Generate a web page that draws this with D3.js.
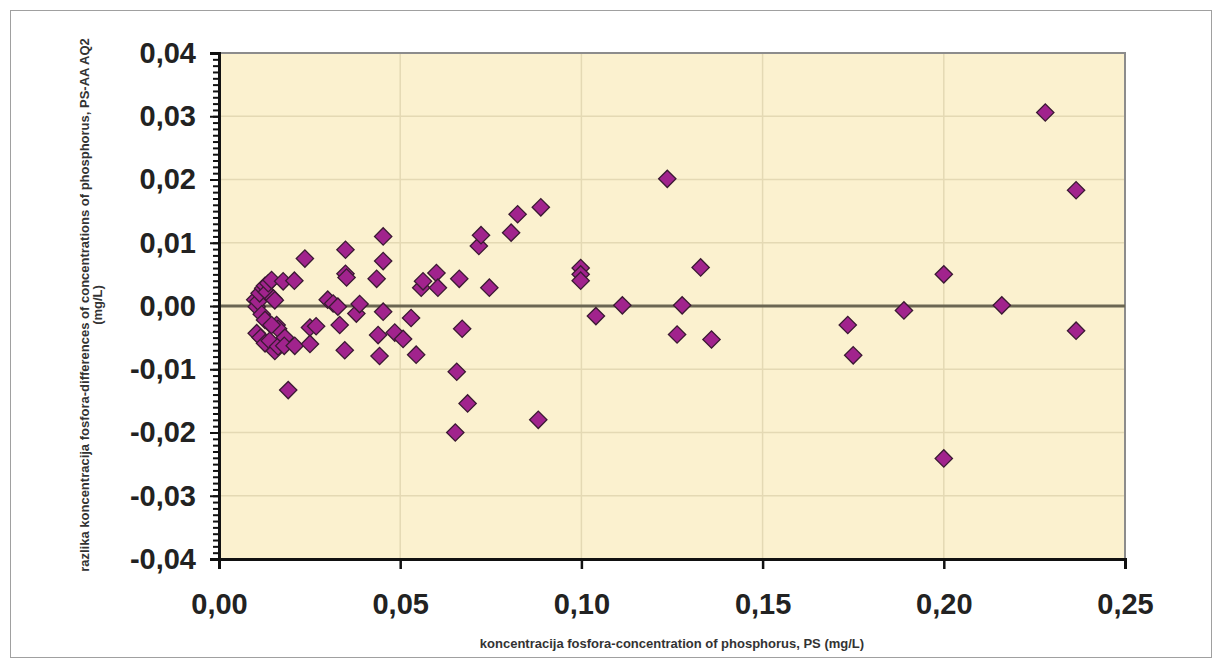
<!DOCTYPE html>
<html>
<head>
<meta charset="utf-8">
<script src="https://cdn.jsdelivr.net/npm/d3@7/dist/d3.min.js"></script>
<style>
  body { margin: 0; background: #fff; }
  svg { display: block; font-family: "Liberation Sans", Arial, sans-serif; }
  .tick-label text { font-weight: bold; fill: #222; }
  .axis-title { font-weight: bold; font-size: 13px; fill: #333; }
</style>
</head>
<body>
<div id="chart"></div>
<script>
// PS concentration (mg/L) and difference PS - AA AQ2 (mg/L)
var psValues = [
  0.0100, 0.0104, 0.0108, 0.0112, 0.0118, 0.0122, 0.0127, 0.0132, 0.0136, 0.0140,
  0.0145, 0.0150, 0.0154, 0.0159, 0.0163, 0.0104, 0.0115, 0.0127, 0.0140, 0.0154,
  0.0163, 0.0182, 0.0180, 0.0209, 0.0177, 0.0208, 0.0127, 0.0145, 0.0191, 0.0237,
  0.0251, 0.0268, 0.0251, 0.0300, 0.0315, 0.0328, 0.0333, 0.0347, 0.0349, 0.0349,
  0.0352, 0.0379, 0.0388, 0.0435, 0.0439, 0.0443, 0.0453, 0.0453, 0.0453, 0.0485,
  0.0508, 0.0530, 0.0544, 0.0558, 0.0563, 0.0600, 0.0604, 0.0656, 0.0652, 0.0663,
  0.0671, 0.0686, 0.0717, 0.0723, 0.0746, 0.0806, 0.0824, 0.0888, 0.0881, 0.0998,
  0.0998, 0.0998, 0.1040, 0.1113, 0.1237, 0.1264, 0.1278, 0.1329, 0.1359, 0.1735,
  0.1750, 0.1890, 0.2000, 0.2000, 0.2160, 0.2280, 0.2365, 0.2365
];
var diffValues = [
  0.0010, -0.0001, 0.0007, 0.0020, -0.0013, 0.0028, 0.0032, 0.0022, 0.0036, -0.0028,
  0.0041, 0.0012, 0.0009, -0.0030, -0.0036, -0.0043, -0.0050, -0.0059, -0.0055, -0.0071,
  -0.0064, -0.0050, -0.0063, -0.0063, 0.0039, 0.0040, -0.0022, -0.0030, -0.0133, 0.0075,
  -0.0034, -0.0032, -0.0060, 0.0010, 0.0004, -0.0001, -0.0030, -0.0070, 0.0089, 0.0051,
  0.0045, -0.0012, 0.0003, 0.0043, -0.0046, -0.0079, 0.0110, 0.0071, -0.0009, -0.0042,
  -0.0052, -0.0019, -0.0077, 0.0029, 0.0039, 0.0052, 0.0029, -0.0104, -0.0200, 0.0043,
  -0.0036, -0.0154, 0.0095, 0.0112, 0.0029, 0.0116, 0.0145, 0.0156, -0.0180, 0.0060,
  0.0050, 0.0040, -0.0016, 0.0001, 0.0201, -0.0045, 0.0001, 0.0061, -0.0053, -0.0030,
  -0.0078, -0.0007, 0.0050, -0.0241, 0.0001, 0.0306, 0.0183, -0.0039
];
var xTicks = [0, 0.05, 0.10, 0.15, 0.20, 0.25];
var yTicks = [-0.04, -0.03, -0.02, -0.01, 0, 0.01, 0.02, 0.03, 0.04];
var xTitle = "koncentracija fosfora-concentration of phosphorus, PS (mg/L)";
var yTitle = "razlika koncentracija fosfora-differences of concentrations of phosphorus, PS-AA AQ2";
var yTitle2 = "(mg/L)";

var width = 1222, height = 668;
var pLeft = 219, pRight = 1125, pTop = 53, pBottom = 559;

var locale = d3.formatLocale({decimal: ",", thousands: ".", grouping: [3], currency: ["", ""], minus: "-"});
var fmt = locale.format(".2f");

var x = d3.scaleLinear().domain([0, 0.25]).range([pLeft, pRight]);
var y = d3.scaleLinear().domain([-0.04, 0.04]).range([pBottom, pTop]);

var svg = d3.select("#chart").append("svg")
    .attr("width", width)
    .attr("height", height);

// outer frame
svg.append("rect")
    .attr("x", 10.5).attr("y", 10.5)
    .attr("width", 1201).attr("height", 647)
    .attr("fill", "none")
    .attr("stroke", "#a0a0a0")
    .attr("stroke-width", 1);

// plot area
svg.append("rect")
    .attr("x", pLeft).attr("y", pTop)
    .attr("width", pRight - pLeft).attr("height", pBottom - pTop)
    .attr("fill", "#fbf1cf");

// gridlines
svg.selectAll("line.hgrid")
    .data(yTicks.filter(function(d){ return d != 0 && d > -0.04 && d < 0.04; }))
    .enter().append("line")
    .attr("class", "hgrid")
    .attr("x1", pLeft).attr("x2", pRight)
    .attr("y1", function(d){ return y(d); })
    .attr("y2", function(d){ return y(d); })
    .attr("stroke", "#e4d9b4")
    .attr("stroke-width", 1.5);

svg.selectAll("line.vgrid")
    .data(xTicks.filter(function(d){ return d > 0 && d < 0.25; }))
    .enter().append("line")
    .attr("class", "vgrid")
    .attr("x1", function(d){ return x(d); })
    .attr("x2", function(d){ return x(d); })
    .attr("y1", pTop).attr("y2", pBottom)
    .attr("stroke", "#e4d9b4")
    .attr("stroke-width", 1.5);

// top and right border of plot area
svg.append("path")
    .attr("d", "M" + pLeft + "," + pTop + "H" + pRight + "V" + pBottom)
    .attr("fill", "none")
    .attr("stroke", "#8c8c8c")
    .attr("stroke-width", 2);

// zero line
svg.append("line")
    .attr("x1", pLeft).attr("x2", pRight)
    .attr("y1", y(0)).attr("y2", y(0))
    .attr("stroke", "#6b6652")
    .attr("stroke-width", 3);

// minor y ticks
var yMinor = svg.append("g")
    .attr("transform", "translate(" + pLeft + ",0)")
    .call(d3.axisLeft(y).ticks(80).tickSize(6).tickFormat(""));
yMinor.select(".domain").remove();
yMinor.selectAll("line").attr("stroke", "#111").attr("stroke-width", 2);

// y axis
var yAxis = svg.append("g")
    .attr("class", "tick-label")
    .attr("transform", "translate(" + pLeft + ",0)")
    .call(d3.axisLeft(y).tickValues(yTicks).tickSize(9).tickPadding(14).tickFormat(fmt));
yAxis.selectAll("text").style("font-size", "29px");
yAxis.selectAll("line").attr("stroke", "#111").attr("stroke-width", 2);
yAxis.select(".domain").attr("stroke", "#111").attr("stroke-width", 3);

// x axis
var xAxis = svg.append("g")
    .attr("class", "tick-label")
    .attr("transform", "translate(0," + pBottom + ")")
    .call(d3.axisBottom(x).tickValues(xTicks).tickSize(10).tickPadding(24).tickFormat(fmt));
xAxis.selectAll("text").style("font-size", "29px");
xAxis.selectAll("line").attr("stroke", "#111").attr("stroke-width", 2.5);
xAxis.select(".domain").attr("stroke", "#111").attr("stroke-width", 3);

// points
var points = psValues.map(function(d, i){ return {ps: d, diff: diffValues[i]}; });
var diamond = d3.symbol().type(d3.symbolSquare).size(150);

svg.selectAll("path.point")
    .data(points).enter().append("path")
    .attr("class", "point")
    .attr("d", diamond)
    .attr("transform", function(d){ return "translate(" + x(d.ps) + "," + y(d.diff) + ") rotate(45)"; })
    .attr("fill", "#a1238d")
    .attr("stroke", "#3b1a33")
    .attr("stroke-width", 1.3);

// axis titles
svg.append("text")
    .attr("class", "axis-title")
    .attr("x", 672).attr("y", 648)
    .attr("text-anchor", "middle")
    .text(xTitle);

svg.append("text")
    .attr("class", "axis-title")
    .attr("transform", "translate(89,305) rotate(-90)")
    .attr("text-anchor", "middle")
    .text(yTitle);

svg.append("text")
    .attr("class", "axis-title")
    .attr("transform", "translate(102,305) rotate(-90)")
    .attr("text-anchor", "middle")
    .text(yTitle2);
</script>
</body>
</html>
